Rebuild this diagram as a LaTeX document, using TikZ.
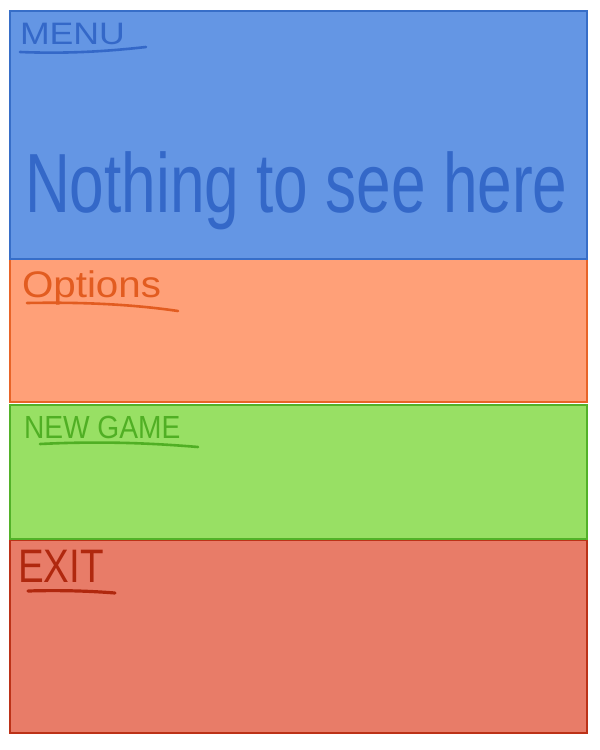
\documentclass[tikz,border=0pt]{standalone}
\usepackage{fontspec}
\setmainfont{Liberation Sans}
\usepackage{graphicx}
\definecolor{bfill}{RGB}{100,150,228}
\definecolor{bdraw}{RGB}{55,110,200}
\definecolor{btext}{RGB}{52,104,200}
\definecolor{ofill}{RGB}{255,160,120}
\definecolor{odraw}{RGB}{232,100,40}
\definecolor{otext}{RGB}{226,92,32}
\definecolor{gfill}{RGB}{152,224,100}
\definecolor{gdraw}{RGB}{82,178,40}
\definecolor{gtext}{RGB}{80,175,36}
\definecolor{rfill}{RGB}{232,124,104}
\definecolor{rdraw}{RGB}{188,50,24}
\definecolor{rtext}{RGB}{176,40,14}
\tikzset{
  panel/.style={rectangle, anchor=north west, minimum width=577pt, line width=2pt, inner sep=0pt, outer sep=0pt},
  label/.style={anchor=base west, inner sep=0pt, outer sep=0pt},
  uline/.style={line width=2.6pt, line cap=round}
}
\begin{document}
\begin{tikzpicture}[x=1pt,y=-1pt]
\useasboundingbox (0,0) rectangle (600,750);
\fill[white] (0,0) rectangle (600,750);
% panels
\node[panel, fill=rfill, draw=rdraw, minimum height=193pt] (exit) at (10,540) {};
\node[panel, fill=gfill, draw=gdraw, minimum height=134pt] (newgame) at (10,405) {};
\node[panel, fill=ofill, draw=odraw, minimum height=143pt] (options) at (10,259) {};
\node[panel, fill=bfill, draw=bdraw, minimum height=248pt] (menu) at (10,11) {};
% labels
\node[label, text=btext] (menut) at (20,44) {\scalebox{1.15}[1]{\fontsize{31}{31}\selectfont MENU}};
\draw[uline, btext] (20,52) .. controls (70,54) and (110,51) .. (146,47);
\node[label, text=btext] (nothing) at (25,212) {\scalebox{0.74}[1]{\fontsize{84}{84}\selectfont Nothing to see here}};
\node[label, text=otext] (optt) at (22,297) {\scalebox{1.09}[1]{\fontsize{37}{37}\selectfont Options}};
\draw[uline, otext] (27,303) .. controls (80,302) and (130,304) .. (178,311);
\node[label, text=gtext] (ngt) at (24,438) {\scalebox{0.88}[1]{\fontsize{32}{32}\selectfont NEW GAME}};
\draw[uline, gtext] (40,444) .. controls (100,441) and (150,443) .. (198,447);
\node[label, text=rtext] (exitt) at (18,582) {\scalebox{0.82}[1]{\fontsize{47}{47}\selectfont EXIT}};
\draw[uline, rtext, line width=3.2pt] (28,591) .. controls (60,590) and (90,591) .. (115,593);
\end{tikzpicture}
\end{document}
